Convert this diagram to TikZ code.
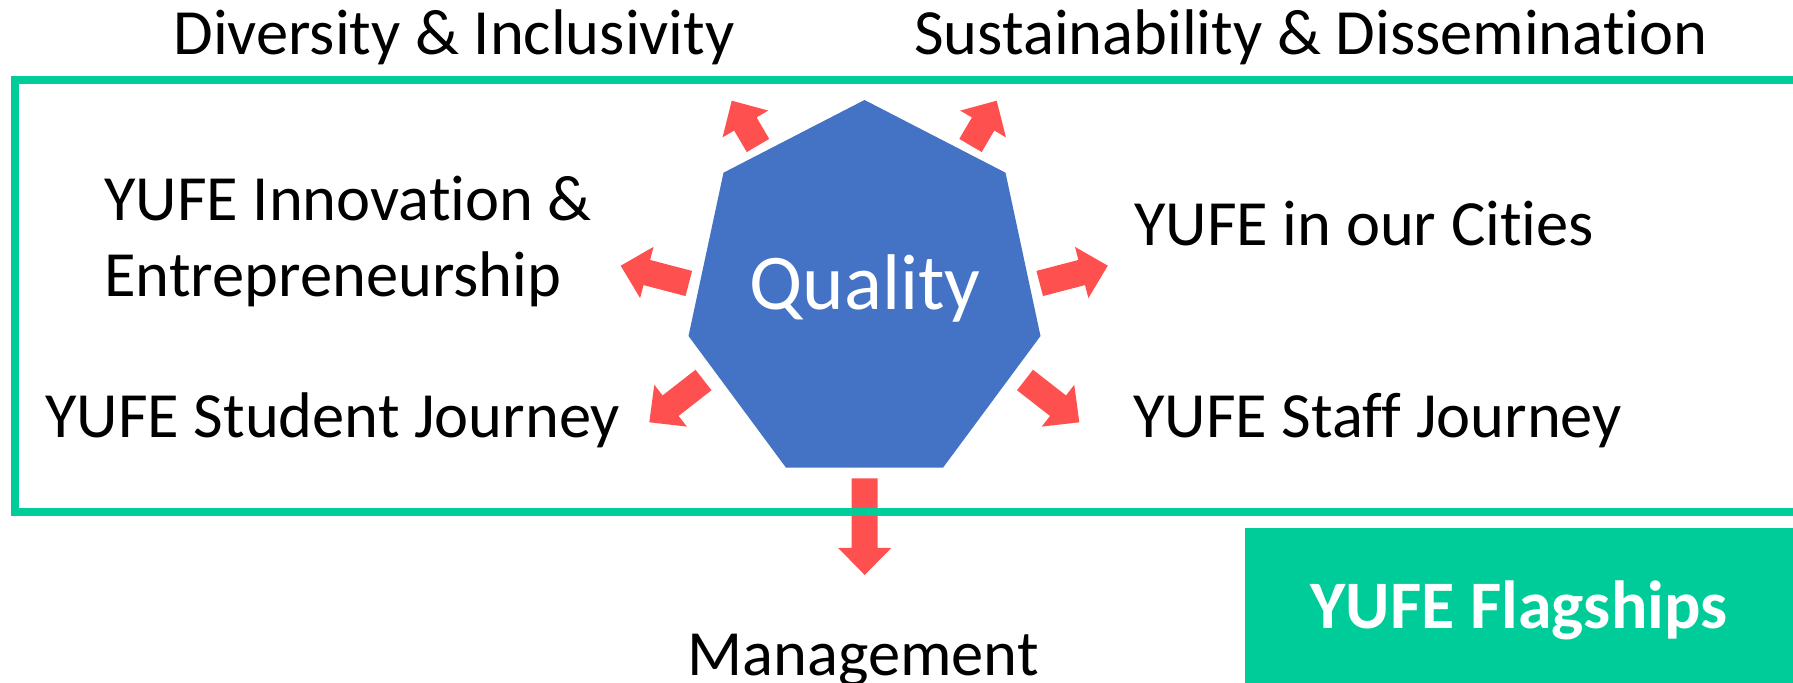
\documentclass[tikz,border=0pt]{standalone}
\usepackage{fontspec}
\setmainfont{Carlito}[Ligatures={NoCommon}]
\usetikzlibrary{calc}
\definecolor{qblue}{HTML}{4472C4}
\definecolor{ared}{HTML}{FF5050}
\definecolor{ygreen}{HTML}{00CC99}
\newcommand\blockarrow[2]{%
  \coordinate (#1-h) at ($(#2)!13.5pt!(#1)$);
  \fill[arrowfill] ($(#1)!6.5pt!90:(#2)$) -- ($(#1-h)!6.5pt!90:(#2)$) -- ($(#1-h)!13.25pt!90:(#2)$) -- (#2)
    -- ($(#1-h)!13.25pt!-90:(#2)$) -- ($(#1-h)!6.5pt!-90:(#2)$) -- ($(#1)!6.5pt!-90:(#2)$) -- cycle;
}
\tikzset{
  lbl/.style={font=\fontsize{32.25}{38}\selectfont, inner sep=0pt, text=black},
  arrowfill/.style={fill=ared},
  frame/.style={draw=ygreen, line width=4pt},
  flagbox/.style={fill=ygreen},
}
\begin{document}
\begin{tikzpicture}[x=0.5pt,y=-0.5pt]
\useasboundingbox (0,0) rectangle (1793,683);
\clip (0,0) rectangle (1793,683);
% heptagon
\coordinate (h1) at (864.5,100);
\coordinate (h2) at (1005.5,172.7);
\coordinate (h3) at (1040.5,336);
\coordinate (h4) at (943,467.7);
\coordinate (h5) at (786,467.7);
\coordinate (h6) at (688.5,336);
\coordinate (h7) at (723.5,172.7);
\fill[qblue] (h1) -- (h2) -- (h3) -- (h4) -- (h5) -- (h6) -- (h7) -- cycle;
\node[lbl, anchor=base, text=white, font=\fontsize{39.5}{46}\selectfont] (quality) at (865,310) {Quality};
% arrows
\coordinate (ul-s) at (758,145.5);   \coordinate (ul-e) at (731.7,100.7);
\coordinate (ur-s) at (970.5,145.5); \coordinate (ur-e) at (996.7,100.7);
\coordinate (l-s) at (688.8,283.5);  \coordinate (l-e) at (620.7,265.7);
\coordinate (r-s) at (1039.7,283.5); \coordinate (r-e) at (1107.8,265.7);
\coordinate (ll-s) at (703.5,380);   \coordinate (ll-e) at (649.3,422.3);
\coordinate (lr-s) at (1025,380);    \coordinate (lr-e) at (1079.3,422.3);
\coordinate (b-s) at (864.7,478.3);  \coordinate (b-e) at (864.7,575);
\blockarrow{ul-s}{ul-e}
\blockarrow{ur-s}{ur-e}
\blockarrow{l-s}{l-e}
\blockarrow{r-s}{r-e}
\blockarrow{ll-s}{ll-e}
\blockarrow{lr-s}{lr-e}
\blockarrow{b-s}{b-e}
% frame
\draw[frame] (1820,80) -- (15.3,80) -- (15.3,512.5) -- (1820,512.5);
% flagships box
\fill[flagbox] (1245,528.3) rectangle (1820,700);
\node[lbl, anchor=base, text=white, font=\fontsize{34}{40}\selectfont\bfseries] (flag) at (1519,628.3) {YUFE Flagships};
% labels
\node[lbl, anchor=base] (div) at (454,55) {Diversity \& Inclusivity};
\node[lbl, anchor=base] (sus) at (1311,55) {Sustainability \& Dissemination};
\node[lbl, anchor=base west] (inn1) at (104,221) {YUFE Innovation \&};
\node[lbl, anchor=base west] (inn2) at (104,297) {Entrepreneurship};
\node[lbl, anchor=base west] (city) at (1134,246) {YUFE in our Cities};
\node[lbl, anchor=base west] (stu) at (45,438) {YUFE Student Journey};
\node[lbl, anchor=base west] (staff) at (1133,438) {YUFE Staff Journey};
\node[lbl, anchor=base] (man) at (863,675) {Management};
\end{tikzpicture}
\end{document}
